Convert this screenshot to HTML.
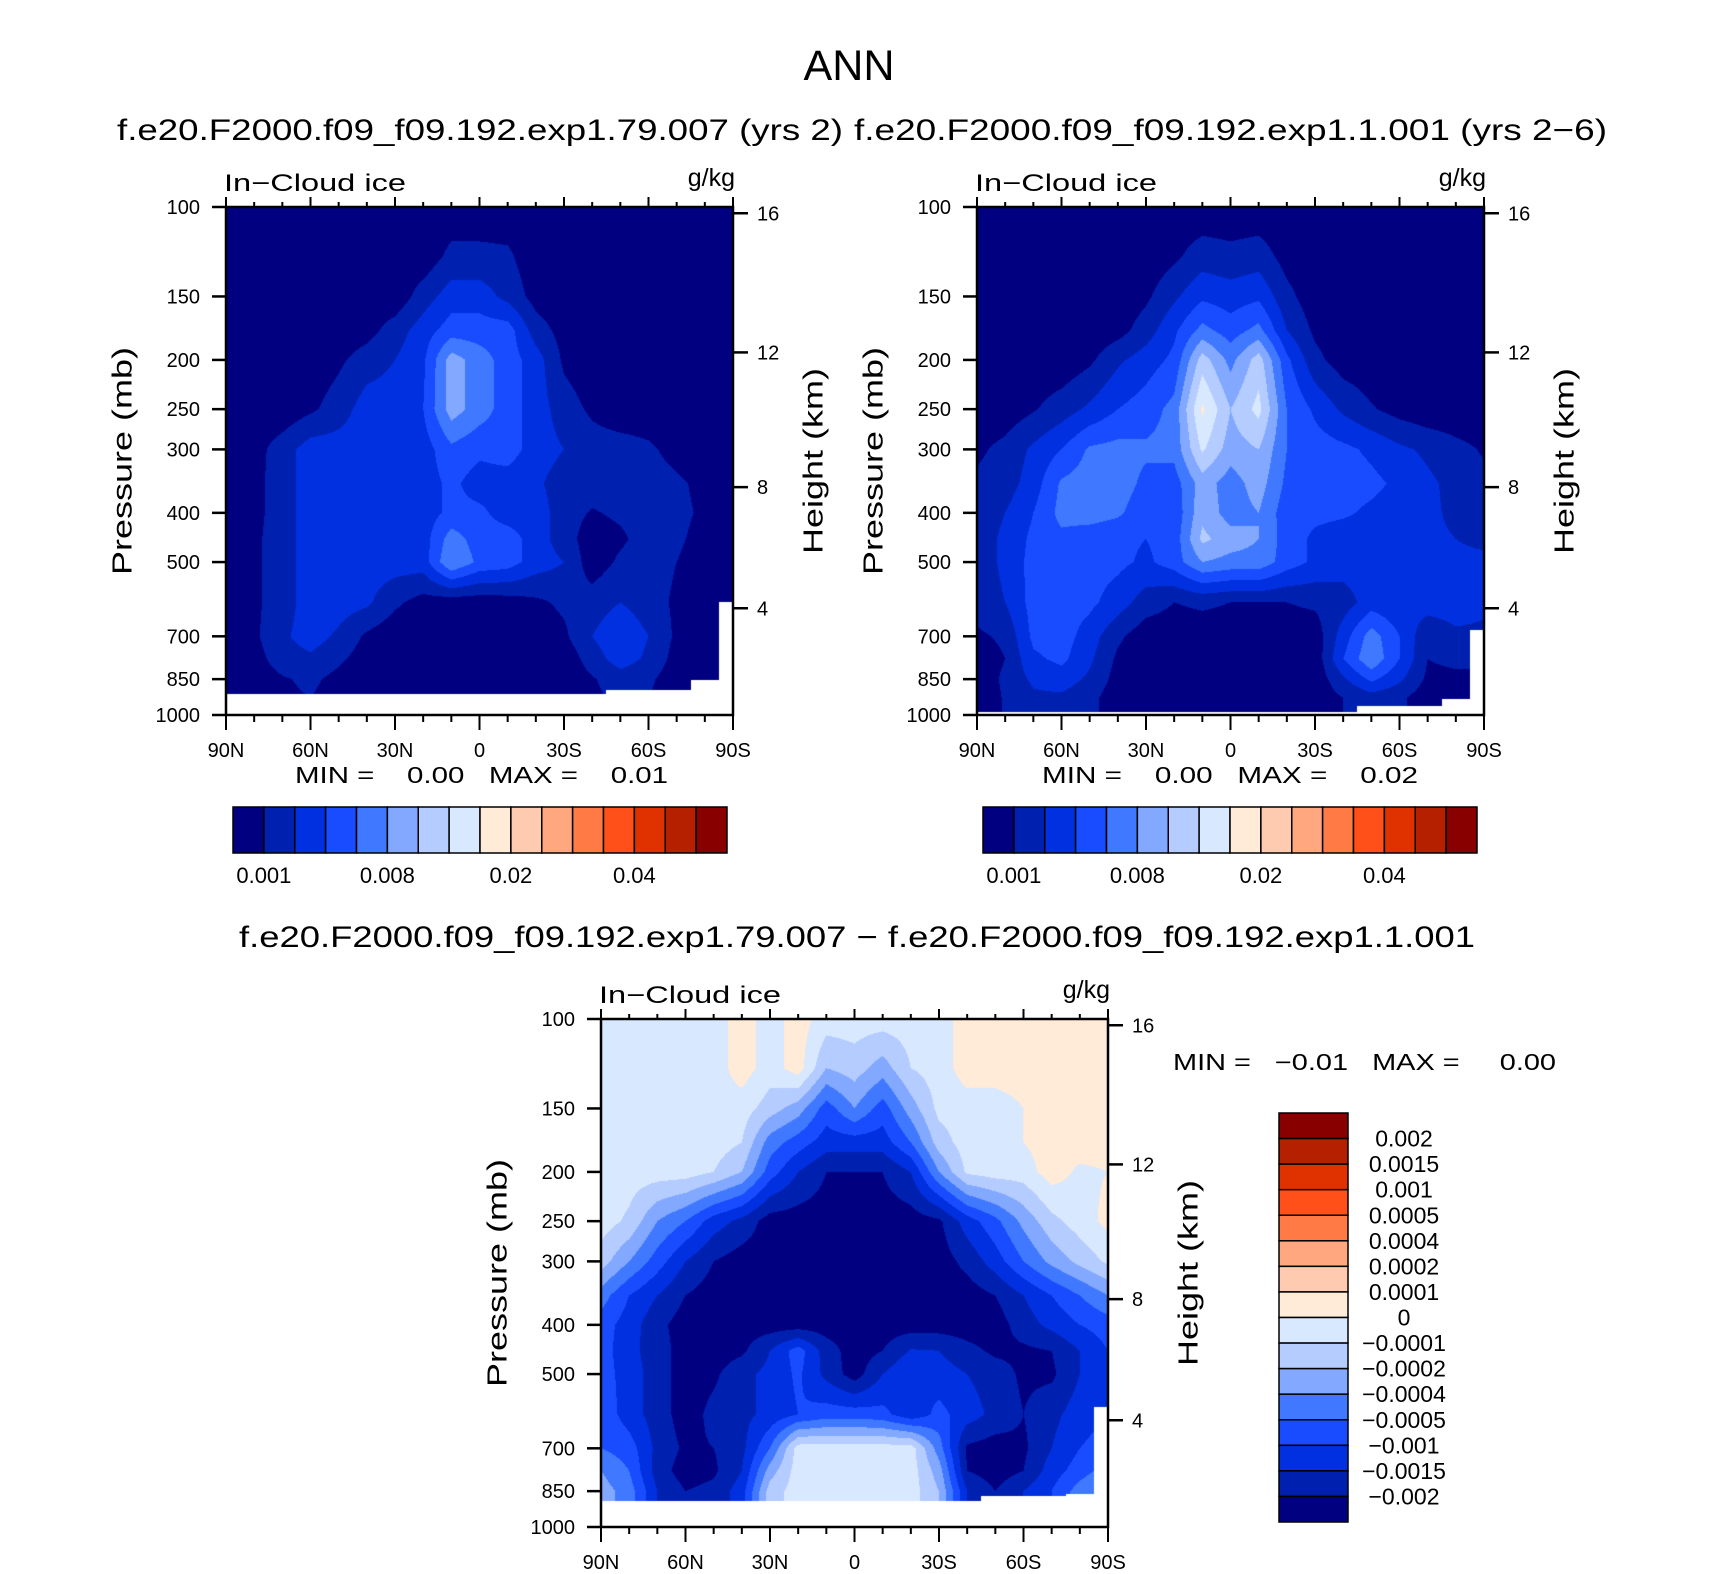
<!DOCTYPE html>
<html><head><meta charset="utf-8"><title>ANN In-Cloud ice</title>
<style>
html,body{margin:0;padding:0;background:#fff;}
#root{position:relative;width:1710px;height:1574px;overflow:hidden;background:#fff;}
canvas{position:absolute;}
svg{position:absolute;left:0;top:0;}
text{font-family:"Liberation Sans",sans-serif;fill:#000;}
</style></head>
<body>
<div id="root">
<canvas id="cv1"></canvas>
<canvas id="cv2"></canvas>
<canvas id="cv3"></canvas>
<svg id="ov" width="1710" height="1574" viewBox="0 0 1710 1574">
  <text x="849" y="80" font-size="43" text-anchor="middle" textLength="91" lengthAdjust="spacingAndGlyphs">ANN</text>
  <text x="117" y="140" font-size="30" textLength="726" lengthAdjust="spacingAndGlyphs">f.e20.F2000.f09_f09.192.exp1.79.007 (yrs 2)</text>
  <text x="854" y="140" font-size="30" textLength="753" lengthAdjust="spacingAndGlyphs">f.e20.F2000.f09_f09.192.exp1.1.001 (yrs 2−6)</text>
  <text x="239" y="947" font-size="30" textLength="1236" lengthAdjust="spacingAndGlyphs">f.e20.F2000.f09_f09.192.exp1.79.007 − f.e20.F2000.f09_f09.192.exp1.1.001</text>
  <text x="295" y="783" font-size="23" textLength="373" lengthAdjust="spacingAndGlyphs" xml:space="preserve">MIN =    0.00   MAX =    0.01</text>
  <text x="1042" y="783" font-size="23" textLength="376" lengthAdjust="spacingAndGlyphs" xml:space="preserve">MIN =    0.00   MAX =    0.02</text>
  <text x="1173" y="1070" font-size="23" textLength="383" lengthAdjust="spacingAndGlyphs" xml:space="preserve">MIN =   −0.01   MAX =     0.00</text>
  <g id="axes"></g>
</svg>
</div>
<script>
// ---------- data ----------
const pressureLevels = [100,125,150,175,200,250,300,350,400,450,500,600,700,775,850,925,1000];
const latitudes = [90,80,70,60,50,40,30,20,10,0,-10,-20,-30,-40,-50,-60,-70,-80,-90];
const caseLevels = [0.001,0.002,0.003,0.005,0.008,0.01,0.012,0.015,0.02,0.025,0.03,0.035,0.04,0.045,0.05];
const diffLevels = [-0.002,-0.0015,-0.001,-0.0005,-0.0004,-0.0002,-0.0001,0,0.0001,0.0002,0.0004,0.0005,0.001,0.0015,0.002];
const fillColors = ["#000080","#0020b0","#0030e0","#1a4cff","#4078ff","#82a8ff","#b4ccff","#d8e8ff","#ffebd8","#ffcbb0","#ffa880","#ff7a44","#ff501a","#e03200","#b42000","#880000"];
const caseLabels = ["0.001","0.008","0.02","0.04"];
const diffLabels = ["0.002","0.0015","0.001","0.0005","0.0004","0.0002","0.0001","0","−0.0001","−0.0002","−0.0004","−0.0005","−0.001","−0.0015","−0.002"];
const pressureTicks = [100,150,200,250,300,400,500,700,850,1000];
const heightTicks = [4,8,12,16];
const latTicks = [90,60,30,0,-30,-60,-90];
const latTickLabels = ["90N","60N","30N","0","30S","60S","90S"];

const iceCase1 = [
[0.0003,0.0003,0.0003,0.0003,0.0003,0.0003,0.0003,0.0003,0.0003,0.0003,0.0003,0.0003,0.0003,0.0003,0.0003,0.0003,0.0003,0.0003,0.0003],
[0.0003,0.0003,0.0003,0.0003,0.0003,0.0003,0.0003,0.0003,0.0013,0.0013,0.0012,0.0003,0.0003,0.0003,0.0003,0.0003,0.0003,0.0003,0.0003],
[0.0003,0.0003,0.0003,0.0003,0.0003,0.0003,0.0003,0.0015,0.0025,0.0025,0.0017,0.0006,0.0003,0.0003,0.0003,0.0003,0.0003,0.0003,0.0003],
[0.0003,0.0003,0.0003,0.0003,0.0003,0.0006,0.0015,0.0025,0.004,0.004,0.004,0.0015,0.0006,0.0003,0.0003,0.0003,0.0003,0.0003,0.0003],
[0.0003,0.0003,0.0003,0.0003,0.0008,0.0015,0.002,0.0028,0.009,0.0065,0.004,0.0025,0.0008,0.0003,0.0003,0.0003,0.0003,0.0003,0.0003],
[0.0003,0.0003,0.0003,0.0008,0.0015,0.0025,0.0025,0.003,0.009,0.0065,0.004,0.0025,0.0015,0.0008,0.0003,0.0003,0.0003,0.0003,0.0003],
[0.0003,0.0006,0.0015,0.0025,0.0025,0.0025,0.0025,0.0025,0.0045,0.0035,0.004,0.0025,0.002,0.0015,0.0015,0.0012,0.0006,0.0003,0.0003],
[0.0003,0.0007,0.0015,0.0025,0.0025,0.0025,0.0025,0.0025,0.0035,0.0025,0.0025,0.0022,0.0015,0.0015,0.0015,0.0015,0.0012,0.0007,0.0003],
[0.0003,0.0007,0.0015,0.0025,0.0025,0.0025,0.0025,0.0025,0.0035,0.0035,0.0025,0.0025,0.0015,0.0009,0.0012,0.0015,0.0013,0.0008,0.0003],
[0.0003,0.0008,0.0015,0.0025,0.0025,0.0025,0.0025,0.0025,0.0065,0.004,0.004,0.0025,0.0015,0.0004,0.0008,0.0015,0.0012,0.0006,0.0003],
[0.0003,0.0008,0.0015,0.0025,0.0025,0.0025,0.0025,0.0025,0.008,0.0045,0.004,0.0025,0.002,0.0004,0.0012,0.0015,0.001,0.0004,0.0003],
[0.0003,0.0008,0.0015,0.0025,0.0025,0.0022,0.0012,0.0006,0.0004,0.0004,0.0005,0.0008,0.0012,0.0015,0.002,0.0015,0.0008,0.0003,0.0003],
[0.0003,0.0008,0.0018,0.0025,0.0018,0.0008,0.0003,0.0003,0.0003,0.0003,0.0003,0.0003,0.0008,0.002,0.0028,0.002,0.0008,0.0003,0.0003],
[0.0003,0.0006,0.0015,0.0018,0.0012,0.0005,0.0003,0.0003,0.0003,0.0003,0.0003,0.0003,0.0003,0.0015,0.0025,0.0018,0.0006,0.0003,0.0003],
[0.0003,0.0004,0.0009,0.0012,0.0007,0.0003,0.0003,0.0003,0.0003,0.0003,0.0003,0.0003,0.0003,0.0009,0.0015,0.0012,0.0004,0.0003,0.0003],
[0.0003,0.0004,0.0008,0.001,0.0006,0.0003,0.0003,0.0003,0.0003,0.0003,0.0003,0.0003,0.0003,0.0008,0.0012,0.001,0.0004,0.0003,0.0003],
[0.0003,0.0004,0.0008,0.001,0.0006,0.0003,0.0003,0.0003,0.0003,0.0003,0.0003,0.0003,0.0003,0.0008,0.0012,0.001,0.0004,0.0003,0.0003]
];
const iceCase2 = [
[0.0003,0.0003,0.0003,0.0003,0.0003,0.0003,0.0003,0.0003,0.0003,0.0003,0.0003,0.0003,0.0003,0.0003,0.0003,0.0003,0.0003,0.0003,0.0003],
[0.0003,0.0003,0.0003,0.0003,0.0003,0.0003,0.0003,0.0008,0.0015,0.0013,0.0015,0.0006,0.0003,0.0003,0.0003,0.0003,0.0003,0.0003,0.0003],
[0.0003,0.0003,0.0003,0.0003,0.0003,0.0003,0.0008,0.0018,0.0028,0.0025,0.0028,0.0013,0.0004,0.0003,0.0003,0.0003,0.0003,0.0003,0.0003],
[0.0003,0.0003,0.0003,0.0003,0.0003,0.0006,0.0015,0.0028,0.006,0.004,0.006,0.002,0.0008,0.0003,0.0003,0.0003,0.0003,0.0003,0.0003],
[0.0003,0.0003,0.0003,0.0003,0.0008,0.0018,0.0025,0.0035,0.011,0.007,0.011,0.0035,0.0013,0.0005,0.0003,0.0003,0.0003,0.0003,0.0003],
[0.0003,0.0004,0.0009,0.0015,0.0022,0.003,0.004,0.006,0.016,0.01,0.013,0.005,0.0028,0.0018,0.0011,0.0006,0.0003,0.0003,0.0003],
[0.0008,0.0013,0.0022,0.003,0.0055,0.006,0.0055,0.006,0.0125,0.009,0.01,0.005,0.004,0.0035,0.0028,0.0022,0.0018,0.0013,0.0009],
[0.0012,0.0015,0.0025,0.0055,0.0065,0.0065,0.0045,0.004,0.009,0.0065,0.009,0.0045,0.004,0.004,0.0035,0.0028,0.0022,0.0017,0.0012],
[0.0015,0.002,0.003,0.006,0.0065,0.0055,0.0038,0.0035,0.0095,0.0065,0.008,0.0038,0.0035,0.0033,0.0028,0.0025,0.0022,0.0018,0.0015],
[0.0015,0.0022,0.0035,0.0045,0.0038,0.0035,0.003,0.0038,0.0105,0.009,0.008,0.004,0.0028,0.0025,0.0025,0.0025,0.0022,0.002,0.0015],
[0.0015,0.0022,0.0038,0.004,0.0038,0.0035,0.0028,0.004,0.008,0.007,0.007,0.004,0.0028,0.0025,0.0025,0.0025,0.0025,0.0025,0.0025],
[0.0015,0.002,0.0038,0.004,0.0035,0.0025,0.0015,0.001,0.0012,0.001,0.001,0.001,0.0012,0.0015,0.0025,0.0022,0.0025,0.0025,0.0022],
[0.0008,0.0012,0.0035,0.004,0.0025,0.0012,0.0004,0.0004,0.0004,0.0004,0.0004,0.0004,0.0004,0.0025,0.0065,0.003,0.0012,0.0018,0.0018],
[0.0004,0.001,0.0028,0.0035,0.0022,0.0008,0.0003,0.0003,0.0003,0.0003,0.0003,0.0003,0.0003,0.003,0.0075,0.003,0.001,0.0012,0.0012],
[0.0003,0.0012,0.0022,0.0025,0.0018,0.0006,0.0003,0.0003,0.0003,0.0003,0.0003,0.0003,0.0003,0.0018,0.0035,0.0022,0.0008,0.0008,0.0008],
[0.0003,0.0011,0.0018,0.0018,0.0013,0.0004,0.0003,0.0003,0.0003,0.0003,0.0003,0.0003,0.0003,0.001,0.0015,0.0012,0.0004,0.0003,0.0003],
[0.0003,0.0011,0.0018,0.0018,0.0013,0.0004,0.0003,0.0003,0.0003,0.0003,0.0003,0.0003,0.0003,0.001,0.0015,0.0012,0.0004,0.0003,0.0003]
];
const iceDiff = [
[-0.00005,-0.00005,-0.00005,-0.00005,-0.00005,0.00005,-0.00005,0.00005,-0.00005,-0.00005,-0.00005,-0.00005,-0.00005,0.00005,0.00005,0.00005,0.00005,0.00005,0.00005],
[-0.00005,-0.00005,-0.00005,-0.00005,-0.00005,0.00005,-0.00005,0.00005,-0.0002,-0.00015,-0.0003,-0.0001,-0.00005,0.00005,0.00005,0.00005,0.00005,0.00005,0.00005],
[-0.00005,-0.00005,-0.00005,-0.00005,-0.00005,-0.00005,-0.00015,-0.0003,-0.00075,-0.0004,-0.00075,-0.0003,-0.00007,-0.00005,-0.00005,0,0.00005,0.00005,0.00005],
[-0.00005,-0.00005,-0.00005,-0.00005,-0.00005,-0.0001,-0.00045,-0.00075,-0.00125,-0.00125,-0.00125,-0.0005,-0.00015,-0.00005,-0.00005,0,0.00005,0.00005,0.00005],
[-0.00005,-0.00005,-0.00005,-0.00005,-0.0001,-0.0002,-0.00075,-0.0015,-0.002,-0.002,-0.002,-0.0015,-0.0004,-0.00008,-0.00005,-0.00005,0.00005,-0.00002,0],
[-0.00005,-0.00012,-0.0004,-0.0005,-0.00125,-0.00165,-0.00225,-0.00225,-0.00225,-0.00225,-0.00225,-0.00225,-0.0021,-0.00125,-0.00065,-0.00034,-0.00013,-0.00005,0.00003],
[-0.00015,-0.0004,-0.00075,-0.0015,-0.002,-0.00225,-0.00225,-0.00225,-0.00225,-0.00225,-0.00225,-0.00225,-0.00225,-0.00185,-0.00125,-0.0005,-0.00034,-0.00017,-0.00008],
[-0.00045,-0.001,-0.0015,-0.002,-0.00225,-0.00225,-0.00225,-0.00225,-0.00225,-0.00225,-0.00225,-0.00225,-0.00225,-0.00225,-0.002,-0.0015,-0.001,-0.0005,-0.0004],
[-0.00075,-0.00125,-0.00185,-0.00225,-0.00225,-0.00225,-0.00225,-0.00225,-0.00225,-0.00225,-0.00225,-0.00225,-0.00225,-0.00225,-0.00225,-0.00175,-0.00135,-0.001,-0.00075],
[-0.00075,-0.00135,-0.00175,-0.00225,-0.00225,-0.0021,-0.0015,-0.00075,-0.00175,-0.00225,-0.002,-0.00145,-0.0015,-0.00185,-0.0021,-0.0021,-0.002,-0.0015,-0.001],
[-0.00075,-0.00125,-0.00175,-0.00225,-0.0021,-0.00165,-0.00135,-0.0009,-0.00165,-0.00225,-0.0015,-0.001,-0.00125,-0.0015,-0.00175,-0.0021,-0.0021,-0.0015,-0.00125],
[-0.00065,-0.00125,-0.00175,-0.00225,-0.00185,-0.00165,-0.00135,-0.001,-0.00075,-0.00075,-0.00085,-0.00135,-0.00085,-0.00125,-0.00165,-0.002,-0.00165,-0.00125,-0.001],
[-0.0005,-0.00075,-0.00165,-0.0021,-0.002,-0.00165,-0.0005,-0.00005,-0.00005,-0.00005,-0.00005,-0.00005,-0.00045,-0.0021,-0.00225,-0.0021,-0.0015,-0.001,-0.00075],
[-0.0004,-0.0005,-0.00175,-0.00225,-0.0021,-0.0015,-0.0003,-0.00005,-0.00005,-0.00005,-0.00005,-0.00005,-0.0003,-0.002,-0.00225,-0.002,-0.00125,-0.00075,-0.00045],
[-0.0003,-0.00045,-0.0015,-0.002,-0.00185,-0.00125,-0.00015,-0.00005,-0.00005,-0.00005,-0.00005,-0.00005,-0.0002,-0.0015,-0.002,-0.0015,-0.001,-0.00045,-0.0003],
[-0.0003,-0.00045,-0.0015,-0.002,-0.00185,-0.00125,-0.00015,-0.00005,-0.00005,-0.00005,-0.00005,-0.00005,-0.0002,-0.0015,-0.002,-0.0015,-0.001,-0.00045,-0.0003],
[-0.0003,-0.00045,-0.0015,-0.002,-0.00185,-0.00125,-0.00015,-0.00005,-0.00005,-0.00005,-0.00005,-0.00005,-0.0002,-0.0015,-0.002,-0.0015,-0.001,-0.00045,-0.0003]
];
const surfCase1 = [909,909,909,909,909,909,909,909,909,909,909,909,909,909,894,894,894,855,600];
const surfCase2 = [985,985,985,985,985,985,985,985,985,985,985,985,985,985,958,958,958,930,680];
const surfDiff  = [890,890,890,890,890,890,890,890,890,890,890,890,890,890,867,867,867,860,580];

// ---------- layout ----------
const W = 507, H = 508;
const panels = [
  {id:"cv1", name:"case1", x0:226, y0:207, grid:iceCase1, surf:surfCase1, levels:caseLevels},
  {id:"cv2", name:"case2", x0:977, y0:207, grid:iceCase2, surf:surfCase2, levels:caseLevels},
  {id:"cv3", name:"difference", x0:601, y0:1019, grid:iceDiff, surf:surfDiff, levels:diffLevels}
];
const NS = "http://www.w3.org/2000/svg";
const axesG = document.getElementById("axes");

function xOf(P, lat){ return P.x0 + (90 - lat) / 180 * W; }
function yOf(P, p){ return P.y0 + Math.log(p / 100) / Math.LN10 * H; }
function heightToP(km){
  const z = km * 1000;
  if (z <= 11000) return 1013.25 * Math.pow(1 - 2.25577e-5 * z, 5.25588);
  return 226.32 * Math.exp(-(z - 11000) / 6341.6);
}
function levelIndex(v, T){
  const n = T.length;
  if (v < T[0]) return (v - T[0]) / (T[1] - T[0]);
  if (v >= T[n-1]) return (n-1) + (v - T[n-1]) / (T[n-1] - T[n-2]);
  for (let k = 0; k < n-1; k++) if (v < T[k+1]) return k + (v - T[k]) / (T[k+1] - T[k]);
  return n-1;
}
function hexRGB(h){ return [parseInt(h.substr(1,2),16),parseInt(h.substr(3,2),16),parseInt(h.substr(5,2),16)]; }
const rgbFills = fillColors.map(hexRGB);

function renderField(P){
  const cv = document.getElementById(P.id);
  cv.width = W; cv.height = H;
  cv.style.left = P.x0 + "px"; cv.style.top = P.y0 + "px";
  const ctx = cv.getContext("2d");
  const img = ctx.createImageData(W, H);
  const idxGrid = P.grid.map(row => row.map(v => levelIndex(v, P.levels)));
  const nLat = latitudes.length, nP = pressureLevels.length;
  const logP = pressureLevels.map(p => Math.log(p));
  for (let py = 0; py < H; py++){
    const p = 100 * Math.pow(10, (py + 0.5) / H);
    const lp = Math.log(p);
    let r = 0;
    while (r < nP - 2 && lp > logP[r+1]) r++;
    let tr = (lp - logP[r]) / (logP[r+1] - logP[r]); tr = Math.max(0, Math.min(1, tr));
    for (let px = 0; px < W; px++){
      const lat = 90 - (px + 0.5) / W * 180;
      const cf = (latitudes[0] - lat) / (latitudes[0] - latitudes[1]);
      const cn = Math.max(0, Math.min(nLat-1, Math.round(cf)));
      const o = (py * W + px) * 4;
      if (p > P.surf[cn]) { img.data[o+3] = 0; continue; }
      let c = Math.floor(cf); if (c >= nLat-1) c = nLat-2; if (c < 0) c = 0;
      const tc = Math.max(0, Math.min(1, cf - c));
      const v = (1-tr)*((1-tc)*idxGrid[r][c] + tc*idxGrid[r][c+1]) + tr*((1-tc)*idxGrid[r+1][c] + tc*idxGrid[r+1][c+1]);
      let k = Math.floor(v) + 1; if (k < 0) k = 0; if (k > 15) k = 15;
      const col = rgbFills[k];
      img.data[o] = col[0]; img.data[o+1] = col[1]; img.data[o+2] = col[2]; img.data[o+3] = 255;
    }
  }
  ctx.putImageData(img, 0, 0);
}

function mk(tag, attrs, parent){
  const e = document.createElementNS(NS, tag);
  for (const k in attrs) e.setAttribute(k, attrs[k]);
  (parent || axesG).appendChild(e);
  return e;
}

function drawAxes(P){
  const g = mk("g", {});
  
  
  const right = P.x0 + W, bottom = P.y0 + H;
  for (let lat = 90; lat >= -90; lat -= 10){
    const x = xOf(P, lat);
    const major = (lat % 30 === 0);
    const tb = mk("line", {x1:x, y1:bottom, x2:x, y2:bottom + (major ? 15 : 7), stroke:"#000", "stroke-width":2}, g);
    
    
    const tt = mk("line", {x1:x, y1:P.y0, x2:x, y2:P.y0 - (major ? 10 : 5), stroke:"#000", "stroke-width":2}, g);
    
    
  }
  latTicks.forEach((lat, i) => {
    const t = mk("text", {x:xOf(P, lat), y:bottom + 42, "font-size":20, "text-anchor":"middle"}, g);
    t.textContent = latTickLabels[i];
    
    
  });
  pressureTicks.forEach(p => {
    const y = yOf(P, p);
    const l = mk("line", {x1:P.x0 - 14, y1:y, x2:P.x0, y2:y, stroke:"#000", "stroke-width":2.5}, g);
    
    
    const t = mk("text", {x:P.x0 - 26, y:y + 7, "font-size":20, "text-anchor":"end"}, g);
    t.textContent = String(p);
    
    
  });
  heightTicks.forEach(km => {
    const y = yOf(P, heightToP(km));
    const l = mk("line", {x1:right, y1:y, x2:right + 15, y2:y, stroke:"#000", "stroke-width":2.5}, g);
    
    
    const t = mk("text", {x:right + 24, y:y + 7, "font-size":20}, g);
    t.textContent = String(km);
    
    
  });
  const fr = mk("rect", {x:P.x0, y:P.y0, width:W, height:H, fill:"none", stroke:"#000", "stroke-width":2.5}, g);
  
  
  const t1 = mk("text", {x:P.x0 - 2, y:P.y0 - 16, "font-size":24, textLength:182, lengthAdjust:"spacingAndGlyphs"}, g);
  t1.textContent = "In−Cloud ice";
  
  
  const t2 = mk("text", {x:right + 2, y:P.y0 - 21, "font-size":25, "text-anchor":"end"}, g);
  t2.textContent = "g/kg";
  
  
  const cy = P.y0 + H / 2;
  const yt = mk("text", {x:P.x0 - 104, y:cy, "font-size":28, "text-anchor":"middle", "dominant-baseline":"central", textLength:228, lengthAdjust:"spacingAndGlyphs", transform:"rotate(-90 " + (P.x0 - 104) + " " + cy + ")"}, g);
  yt.textContent = "Pressure (mb)";
  
  
  const ht = mk("text", {x:right + 80, y:cy, "font-size":28, "text-anchor":"middle", "dominant-baseline":"central", textLength:186, lengthAdjust:"spacingAndGlyphs", transform:"rotate(-90 " + (right + 80) + " " + cy + ")"}, g);
  ht.textContent = "Height (km)";
  
  
}

function drawHorizBar(x0, name){
  const g = mk("g", {});
  
  
  const y0 = 807, bw = 494 / 16, bh = 46;
  fillColors.forEach((c, i) => {
    const r = mk("rect", {x:x0 + i*bw, y:y0, width:bw, height:bh, fill:c, stroke:"#000", "stroke-width":1.5}, g);
    
    
  });
  caseLabels.forEach((s, i) => {
    const k = 1 + i*4;
    const t = mk("text", {x:x0 + k*bw, y:883, "font-size":22, "text-anchor":"middle"}, g);
    t.textContent = s;
    
    
  });
}

function drawVertBar(){
  const g = mk("g", {});
  
  
  const x0 = 1279, y0 = 1113, bw = 69, bh = 409 / 16;
  for (let i = 0; i < 16; i++){
    const r = mk("rect", {x:x0, y:y0 + i*bh, width:bw, height:bh, fill:fillColors[15 - i], stroke:"#000", "stroke-width":1.5}, g);
    
    
  }
  diffLabels.forEach((s, i) => {
    const t = mk("text", {x:1404, y:y0 + (i+1)*bh + 8, "font-size":23, "text-anchor":"middle"}, g);
    t.textContent = s;
    
    
  });
}

panels.forEach(P => { renderField(P); drawAxes(P); });
drawHorizBar(233, 'case1-colorbar');
drawHorizBar(983, 'case2-colorbar');
drawVertBar();
</script>
</body></html>
